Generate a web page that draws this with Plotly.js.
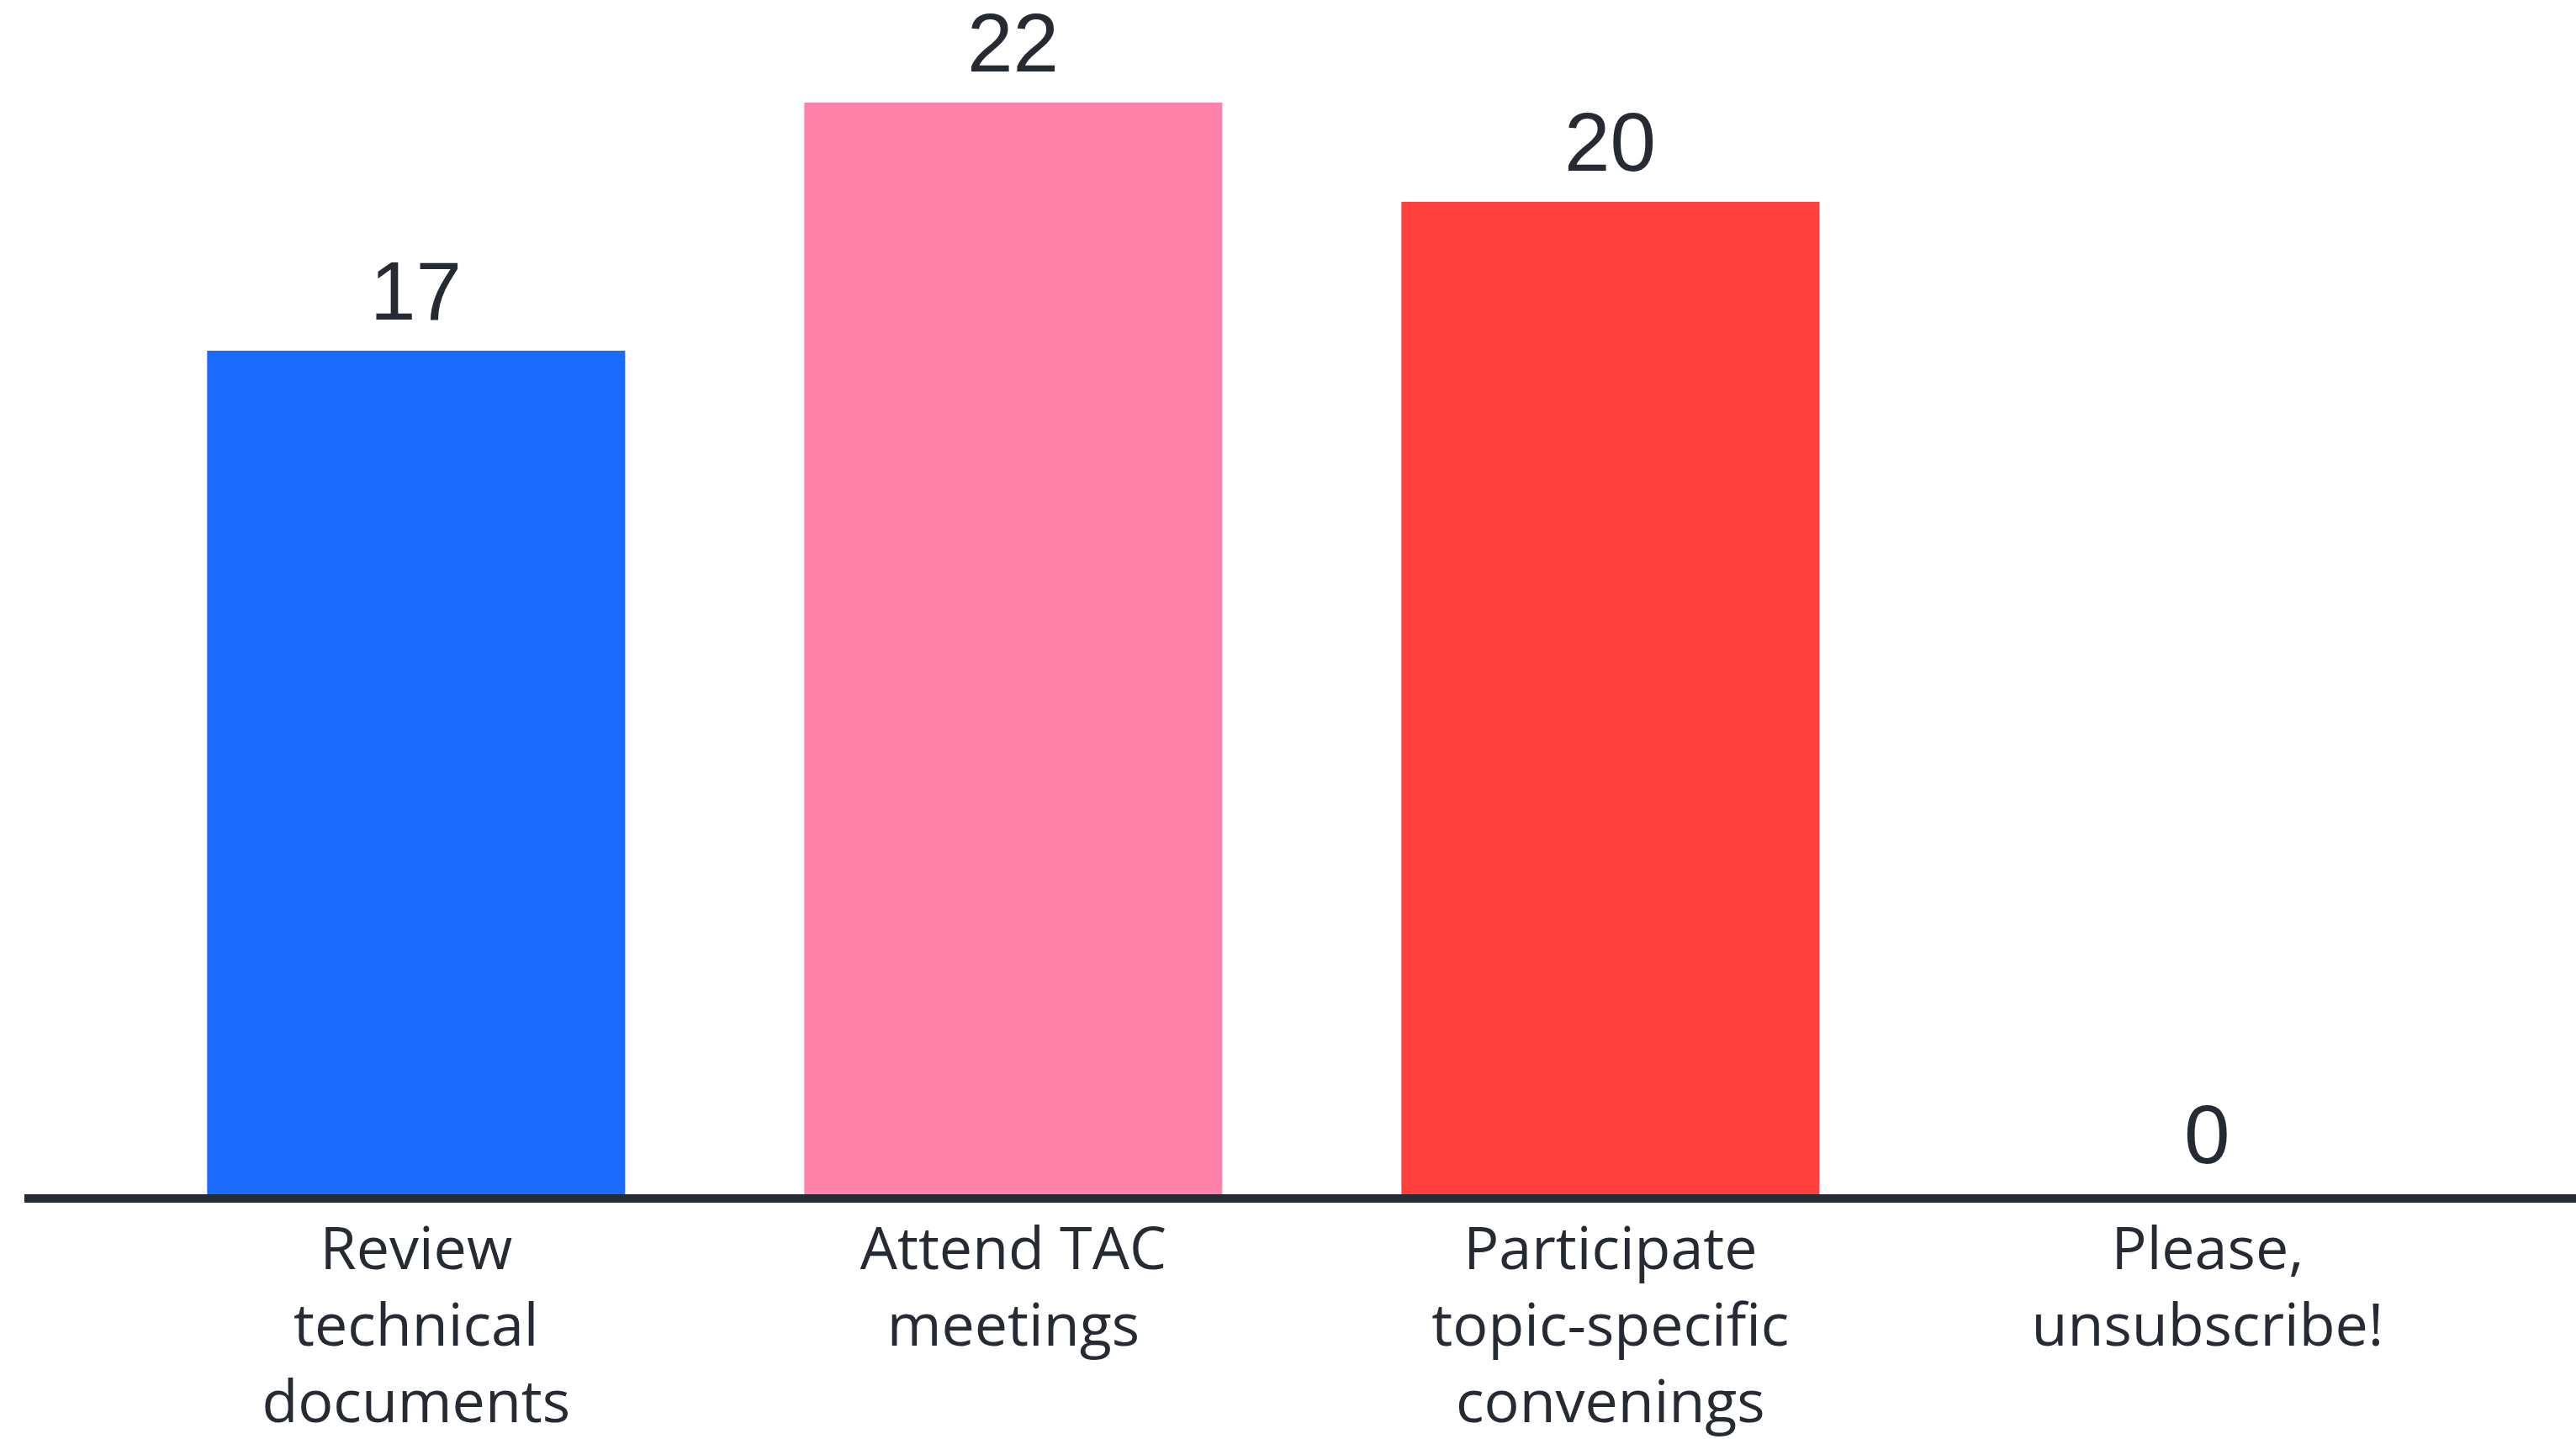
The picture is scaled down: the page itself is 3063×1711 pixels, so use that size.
<!DOCTYPE html>
<html>
<head>
<meta charset="utf-8">
<script src="https://cdn.plot.ly/plotly-3.0.1.min.js"></script>
<style>
html,body{margin:0;padding:0;background:#fff;}
#chart{width:3063px;height:1711px;}
</style>
</head>
<body>
<div id="chart"></div>
<script>
const categories = ["Review<br>technical<br>documents", "Attend TAC<br>meetings", "Participate<br>topic-specific<br>convenings", "Please,<br>unsubscribe!"];
const values = [17, 22, 20, 0];
const barColors = ["#1b6bff", "#ff82ab", "#ff403f", "#8a8f98"];
const positions = [0, 1, 2, 3];

const trace = {
  type: "bar",
  x: positions,
  y: values,
  marker: {color: barColors, line: {width: 0}},
  hoverinfo: "none"
};

const valueLabels = positions.map((p, i) => ({
  x: p,
  y: values[i],
  xref: "x",
  yref: "y",
  text: String(values[i]),
  showarrow: false,
  yanchor: "bottom",
  yshift: 14,
  font: {family: "Liberation Sans, Arial, sans-serif", size: 98, color: "#262a33"}
}));

const layout = {
  width: 3063,
  height: 1711,
  paper_bgcolor: "#ffffff",
  plot_bgcolor: "#ffffff",
  margin: {l: 29, r: 0, t: 0, b: 291, pad: 0},
  bargap: 0.30,
  showlegend: false,
  annotations: valueLabels,
  xaxis: {
    range: [-0.656, 3.617],
    tickmode: "array",
    tickvals: positions,
    ticktext: categories,
    tickfont: {family: "Open Sans, sans-serif", size: 70, color: "#262a33"},
    ticklabelstandoff: -5,
    showline: true,
    linecolor: "#262a33",
    linewidth: 10,
    ticks: "",
    showgrid: false,
    zeroline: false,
    fixedrange: true
  },
  yaxis: {
    range: [0, 24.07],
    visible: false,
    showgrid: false,
    zeroline: false,
    fixedrange: true
  }
};

Plotly.newPlot("chart", [trace], layout, {staticPlot: true, displayModeBar: false});
</script>
</body>
</html>
